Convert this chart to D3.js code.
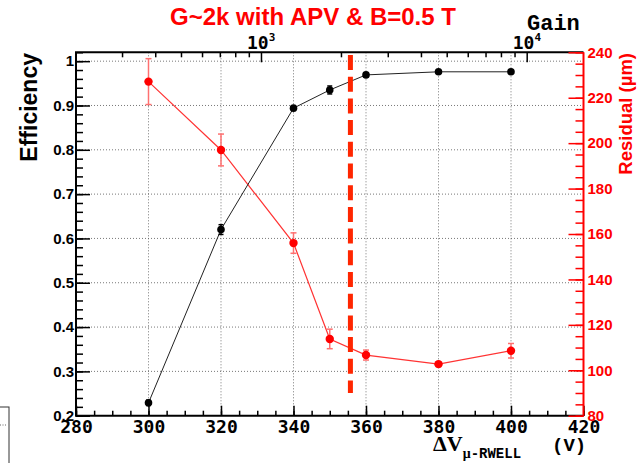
<!DOCTYPE html>
<html>
<head>
<meta charset="utf-8">
<script src="https://cdn.jsdelivr.net/npm/d3@7"></script>
<style>
  html, body { margin: 0; padding: 0; background: #fff; }
  svg { display: block; }
</style>
</head>
<body>
<svg id="chart" width="640" height="463"></svg>
<script>
// efficiency and residual vs. mu-RWELL voltage
var voltage = [300, 320, 340, 350, 360, 380, 400];
var efficiency = [0.229, 0.620, 0.894, 0.935, 0.969, 0.976, 0.976];
var efficiencyErr = [0.006, 0.011, 0.005, 0.009, 0.005, 0.003, 0.003];
var residual = [227.1, 197.0, 156.0, 113.8, 106.7, 102.7, 108.6];
var residualErr = [10.1, 7.0, 4.5, 4.3, 2.2, 1.0, 3.2];
var voltageTicks = [280, 300, 320, 340, 360, 380, 400, 420];
var efficiencyTicks = [0.2, 0.3, 0.4, 0.5, 0.6, 0.7, 0.8, 0.9, 1];
var residualTicks = [80, 100, 120, 140, 160, 180, 200, 220, 240];
var gainTicks = [1000, 10000];
var gainMinor = [300, 400, 500, 600, 700, 800, 900, 2000, 3000, 4000, 5000, 6000, 7000, 8000, 9000];
var workingPoint = [355.7];

var svg = d3.select('#chart');
var padL = 76, padR = 583.5, padT = 52.3, padB = 415.7;
var mono = "'DejaVu Sans Mono', monospace";
var sans = "'Liberation Sans', Arial, sans-serif";

var x = d3.scaleLinear().domain([280, 420]).range([padL, padR]);
var yEff = d3.scaleLinear().domain([0.2, 1.02]).range([padB, padT]);
var yRes = d3.scaleLinear().domain([80, 240]).range([padB, padT]);
var xGain = d3.scaleLog().domain([201.3, 16360]).range([padL, padR]);

function clean(g) {
  g.select('.domain').remove();
  return g;
}

// grid
var grid = svg.append('g').attr('stroke', '#555').attr('stroke-width', 0.8)
  .attr('stroke-dasharray', '1,2');
grid.selectAll('line.v').data(voltageTicks.slice(1, -1)).enter().append('line')
  .attr('x1', function(d) { return x(d); }).attr('x2', function(d) { return x(d); })
  .attr('y1', padT).attr('y2', padB);
grid.selectAll('line.h').data(efficiencyTicks.slice(1)).enter().append('line')
  .attr('y1', function(d) { return yEff(d); }).attr('y2', function(d) { return yEff(d); })
  .attr('x1', padL).attr('x2', padR);

// bottom axis
svg.append('g').attr('transform', 'translate(0,' + padB + ')')
  .call(d3.axisBottom(x).tickValues(d3.range(280, 421, 5)).tickSize(-5).tickFormat(''))
  .call(clean).selectAll('line').attr('stroke', '#000').attr('stroke-width', 1.5);
var bx = svg.append('g').attr('transform', 'translate(0,' + padB + ')')
  .call(d3.axisBottom(x).tickValues(voltageTicks).tickSize(-10).tickPadding(5).tickFormat(d3.format('d')))
  .call(clean);
bx.selectAll('line').attr('stroke', '#000').attr('stroke-width', 1.5);
bx.selectAll('text').attr('font-family', mono).attr('font-weight', 'bold')
  .attr('font-size', 18).attr('fill', '#000');

// left axis
svg.append('g').attr('transform', 'translate(' + padL + ',0)')
  .call(d3.axisLeft(yEff).tickValues(d3.range(0.2, 1.021, 0.02)).tickSize(-7).tickFormat(''))
  .call(clean).selectAll('line').attr('stroke', '#000').attr('stroke-width', 1.5);
var ly = svg.append('g').attr('transform', 'translate(' + padL + ',0)')
  .call(d3.axisLeft(yEff).tickValues(efficiencyTicks).tickSize(-14).tickPadding(2).tickFormat(d3.format('')))
  .call(clean);
ly.selectAll('line').attr('stroke', '#000').attr('stroke-width', 1.5);
ly.selectAll('text').attr('font-family', sans).attr('font-weight', 'bold')
  .attr('font-size', 15).attr('fill', '#000');

// top gain axis
svg.append('g').attr('transform', 'translate(0,' + padT + ')')
  .call(d3.axisTop(xGain).tickValues(gainMinor).tickSize(-5).tickFormat(''))
  .call(clean).selectAll('line').attr('stroke', '#000').attr('stroke-width', 1.5);
svg.append('g').attr('transform', 'translate(0,' + padT + ')')
  .call(d3.axisTop(xGain).tickValues(gainTicks).tickSize(-10).tickFormat(''))
  .call(clean).selectAll('line').attr('stroke', '#000').attr('stroke-width', 1.5);
var gl = svg.append('g').selectAll('text').data(gainTicks).enter().append('text')
  .attr('x', function(d) { return xGain(d) - 14; }).attr('y', 49)
  .attr('font-family', mono).attr('font-weight', 'bold').attr('font-size', 18).attr('fill', '#000');
gl.append('tspan').text('10');
gl.append('tspan').attr('font-size', 11).attr('dy', -8).text(function(d) { return Math.round(Math.log10(d)); });

// frame
svg.append('path')
  .attr('d', 'M' + padR + ',' + padT + 'H' + padL + 'V' + padB + 'H' + padR)
  .attr('fill', 'none').attr('stroke', '#000').attr('stroke-width', 2);

// right residual axis
svg.append('g').attr('transform', 'translate(' + padR + ',0)')
  .call(d3.axisRight(yRes).tickValues(d3.range(80, 241, 5)).tickSize(-8).tickFormat(''))
  .call(clean).selectAll('line').attr('stroke', '#f00').attr('stroke-width', 1.5);
var ry = svg.append('g').attr('transform', 'translate(' + padR + ',0)')
  .call(d3.axisRight(yRes).tickValues(residualTicks).tickSize(-15).tickPadding(4).tickFormat(d3.format('d')))
  .call(clean);
ry.selectAll('line').attr('stroke', '#f00').attr('stroke-width', 1.5);
ry.selectAll('text').attr('font-family', sans).attr('font-weight', 'bold')
  .attr('font-size', 15).attr('fill', '#f00');
svg.append('line').attr('x1', padR).attr('x2', padR).attr('y1', padT).attr('y2', padB)
  .attr('stroke', '#f00').attr('stroke-width', 2);

// residual series
var resLine = d3.line().x(function(d, i) { return x(voltage[i]); }).y(function(d) { return yRes(d); });
svg.append('path').datum(residual).attr('d', resLine)
  .attr('fill', 'none').attr('stroke', '#f33').attr('stroke-width', 1.2);
var re = svg.append('g').attr('stroke', '#ff7070').attr('stroke-width', 1.5);
residual.forEach(function(r, i) {
  var cx = x(voltage[i]);
  re.append('line').attr('x1', cx).attr('x2', cx)
    .attr('y1', yRes(r - residualErr[i])).attr('y2', yRes(r + residualErr[i]));
  [r - residualErr[i], r + residualErr[i]].forEach(function(v) {
    re.append('line').attr('x1', cx - 3).attr('x2', cx + 3).attr('y1', yRes(v)).attr('y2', yRes(v));
  });
});
svg.append('g').selectAll('circle').data(residual).enter().append('circle')
  .attr('cx', function(d, i) { return x(voltage[i]); })
  .attr('cy', function(d) { return yRes(d); })
  .attr('r', 4.2).attr('fill', '#f00');

// efficiency series
var effLine = d3.line().x(function(d, i) { return x(voltage[i]); }).y(function(d) { return yEff(d); });
svg.append('path').datum(efficiency).attr('d', effLine)
  .attr('fill', 'none').attr('stroke', '#222').attr('stroke-width', 1);
var ee = svg.append('g').attr('stroke', '#000').attr('stroke-width', 1.5);
efficiency.forEach(function(e, i) {
  var cx = x(voltage[i]);
  ee.append('line').attr('x1', cx).attr('x2', cx)
    .attr('y1', yEff(e - efficiencyErr[i])).attr('y2', yEff(e + efficiencyErr[i]));
  [e - efficiencyErr[i], e + efficiencyErr[i]].forEach(function(v) {
    ee.append('line').attr('x1', cx - 2.5).attr('x2', cx + 2.5).attr('y1', yEff(v)).attr('y2', yEff(v));
  });
});
svg.append('g').selectAll('circle').data(efficiency).enter().append('circle')
  .attr('cx', function(d, i) { return x(voltage[i]); })
  .attr('cy', function(d) { return yEff(d); })
  .attr('r', 3.8).attr('fill', '#000');

// working point marker
svg.selectAll('line.wp').data(workingPoint).enter().append('line')
  .attr('x1', function(d) { return x(d); }).attr('x2', function(d) { return x(d); })
  .attr('y1', 55).attr('y2', 393)
  .attr('stroke', '#ff2600').attr('stroke-width', 5).attr('stroke-dasharray', '15,6.7');

// titles
svg.append('text').attr('x', 313).attr('y', 25).attr('text-anchor', 'middle')
  .attr('font-family', sans).attr('font-weight', 'bold').attr('font-size', 24).attr('fill', '#f00')
  .text('G~2k with APV & B=0.5 T');
svg.append('text').attr('x', 527).attr('y', 30)
  .attr('font-family', "'Liberation Mono', monospace").attr('font-weight', 'bold').attr('font-size', 22)
  .attr('fill', '#000').text('Gain');
svg.append('text').attr('transform', 'translate(37,53) rotate(-90)').attr('text-anchor', 'end')
  .attr('font-family', sans).attr('font-weight', 'bold').attr('font-size', 23).attr('fill', '#000')
  .text('Efficiency');
svg.append('text').attr('transform', 'translate(632,53) rotate(-90)').attr('text-anchor', 'end')
  .attr('font-family', sans).attr('font-weight', 'bold').attr('font-size', 18.5).attr('fill', '#f00')
  .text('Residual (\u00b5m)');
var xt = svg.append('text').attr('x', 433).attr('y', 451).attr('fill', '#000')
  .attr('font-family', "'Liberation Serif', serif").attr('font-weight', 'bold').attr('font-size', 22);
xt.append('tspan').text('\u0394V');
xt.append('tspan').attr('dy', 7).attr('font-size', 14).text('\u03bc')
  .attr('font-family', "'Liberation Serif', serif");
xt.append('tspan').attr('font-size', 14).attr('font-family', "'Liberation Mono', monospace").text('-RWELL');
svg.append('text').attr('x', 552).attr('y', 451).attr('fill', '#000')
  .attr('font-family', "'Liberation Mono', monospace").attr('font-weight', 'bold').attr('font-size', 19)
  .text('(V)');

// clipped legend box from neighbouring figure
svg.append('rect').attr('x', -2).attr('y', 407).attr('width', 11).attr('height', 70)
  .attr('fill', 'none').attr('stroke', '#333').attr('stroke-width', 1);
svg.append('line').attr('x1', 0).attr('x2', 7).attr('y1', 425).attr('y2', 425)
  .attr('stroke', '#666').attr('stroke-dasharray', '1,1.5');
</script>
</body>
</html>
